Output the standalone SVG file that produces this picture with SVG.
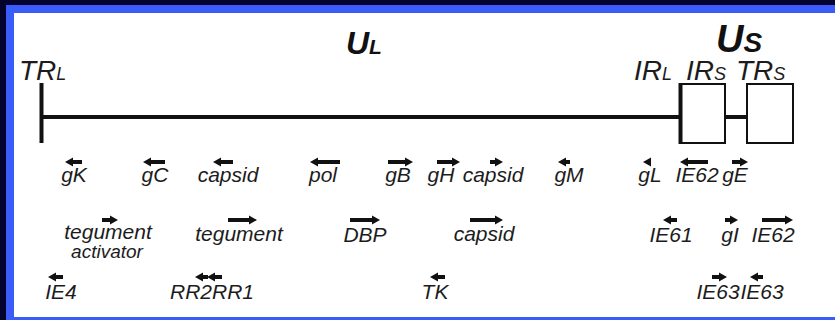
<svg xmlns="http://www.w3.org/2000/svg" width="835" height="320" viewBox="0 0 835 320">
<style>
.lbl{font-family:"Liberation Sans",Arial,sans-serif;font-style:italic;font-size:21px;fill:#1c1c1c;text-anchor:middle}
.lbs{font-family:"Liberation Sans",Arial,sans-serif;font-style:italic;font-size:19px;fill:#1c1c1c;text-anchor:middle}
.reg{font-family:"Liberation Sans",Arial,sans-serif;font-style:italic;fill:#1c1c1c}
.big{font-family:"Liberation Sans",Arial,sans-serif;font-style:italic;font-weight:bold;fill:#111}
.arr{fill:#111}
.bb{stroke:#111;fill:none}
</style>
<g id="frame">
<rect x="0" y="0" width="835" height="320" fill="#03032e"/>
<rect x="6" y="5" width="835" height="320" fill="#3a5cf8"/>
<rect x="14" y="13" width="830" height="304" fill="#ffffff"/>
</g>
<g id="connectors">
<line class="bb" x1="41.5" y1="83" x2="41.5" y2="143" stroke-width="4"/>
<line class="bb" x1="42" y1="117" x2="680" y2="117" stroke-width="4"/>
<line class="bb" x1="725" y1="117" x2="747" y2="117" stroke-width="4"/>
</g>
<g id="IRL-IRS-box">
<rect class="bb" x="680" y="84" width="45" height="59" stroke-width="2"/>
<line class="bb" x1="680.5" y1="83" x2="680.5" y2="144" stroke-width="4"/>
</g>
<g id="TRS-box">
<rect class="bb" x="747" y="84" width="46" height="59" stroke-width="2"/>
</g>
<g id="region-labels">
<text class="reg" x="19" y="80"><tspan font-size="28">TR</tspan><tspan font-size="18">L</tspan></text>
<text class="big" x="346" y="54"><tspan font-size="32">U</tspan><tspan font-size="21">L</tspan></text>
<text class="big" x="716" y="52"><tspan font-size="38">U</tspan><tspan font-size="28">S</tspan></text>
<text class="reg" x="634" y="80"><tspan font-size="28">IR</tspan><tspan font-size="18">L</tspan></text>
<text class="reg" x="686" y="80"><tspan font-size="28">IR</tspan><tspan font-size="18">S</tspan></text>
<text class="reg" x="736" y="80"><tspan font-size="28">TR</tspan><tspan font-size="18">S</tspan></text>
</g>
<g id="gK"><path class="arr" d="M65,162 L73,157.5 L73,160 L82,160 L82,164 L73,164 L73,166.5 Z"/><text class="lbl" x="74" y="182">gK</text></g>
<g id="gC"><path class="arr" d="M143,162 L151,157.5 L151,160 L165,160 L165,164 L151,164 L151,166.5 Z"/><text class="lbl" x="155" y="182">gC</text></g>
<g id="capsid1"><path class="arr" d="M213,162 L221,157.5 L221,160 L233,160 L233,164 L221,164 L221,166.5 Z"/><text class="lbl" x="228" y="182">capsid</text></g>
<g id="pol"><path class="arr" d="M310,162 L318,157.5 L318,160 L340,160 L340,164 L318,164 L318,166.5 Z"/><text class="lbl" x="323" y="182">pol</text></g>
<g id="gB"><path class="arr" d="M413,162 L405,157.5 L405,160 L388,160 L388,164 L405,164 L405,166.5 Z"/><text class="lbl" x="398" y="182">gB</text></g>
<g id="gH"><path class="arr" d="M460,162 L452,157.5 L452,160 L437,160 L437,164 L452,164 L452,166.5 Z"/><text class="lbl" x="441" y="182">gH</text></g>
<g id="capsid2"><path class="arr" d="M503,162 L495,157.5 L495,160 L490,160 L490,164 L495,164 L495,166.5 Z"/><text class="lbl" x="493" y="182">capsid</text></g>
<g id="gM"><path class="arr" d="M558,162 L566,157.5 L566,160 L570,160 L570,164 L566,164 L566,166.5 Z"/><text class="lbl" x="569" y="182">gM</text></g>
<g id="gL"><path class="arr" d="M643,162 L651,157.5 L651,166.5 Z"/><text class="lbl" x="650" y="182">gL</text></g>
<g id="IE62a"><path class="arr" d="M680,162 L688,157.5 L688,160 L708,160 L708,164 L688,164 L688,166.5 Z"/><text class="lbl" x="697" y="182">IE62</text></g>
<g id="gE"><path class="arr" d="M748,162 L740,157.5 L740,160 L732,160 L732,164 L740,164 L740,166.5 Z"/><text class="lbl" x="735" y="182">gE</text></g>
<g id="tegument-activator"><path class="arr" d="M118,220 L110,215.5 L110,218 L102,218 L102,222 L110,222 L110,224.5 Z"/><text class="lbl" x="108" y="239">tegument</text><text class="lbs" x="107" y="258">activator</text></g>
<g id="tegument"><path class="arr" d="M257,220 L249,215.5 L249,218 L228,218 L228,222 L249,222 L249,224.5 Z"/><text class="lbl" x="239" y="241">tegument</text></g>
<g id="DBP"><path class="arr" d="M380,220 L372,215.5 L372,218 L350,218 L350,222 L372,222 L372,224.5 Z"/><text class="lbl" x="365" y="242">DBP</text></g>
<g id="capsid3"><path class="arr" d="M503,220 L495,215.5 L495,218 L470,218 L470,222 L495,222 L495,224.5 Z"/><text class="lbl" x="484" y="241">capsid</text></g>
<g id="IE61"><path class="arr" d="M663,220 L671,215.5 L671,218 L677,218 L677,222 L671,222 L671,224.5 Z"/><text class="lbl" x="671" y="242">IE61</text></g>
<g id="gI"><path class="arr" d="M738,220 L730,215.5 L730,218 L725,218 L725,222 L730,222 L730,224.5 Z"/><text class="lbl" x="730" y="242">gI</text></g>
<g id="IE62b"><path class="arr" d="M793,220 L785,215.5 L785,218 L762,218 L762,222 L785,222 L785,224.5 Z"/><text class="lbl" x="773" y="242">IE62</text></g>
<g id="IE4"><path class="arr" d="M48,277 L56,272.5 L56,275 L63,275 L63,279 L56,279 L56,281.5 Z"/><text class="lbl" x="61" y="299">IE4</text></g>
<g id="RR2RR1"><path class="arr" d="M195,277 L203,272.5 L203,275 L208,275 L208,279 L203,279 L203,281.5 Z"/><path class="arr" d="M207,277 L215,272.5 L215,275 L222,275 L222,279 L215,279 L215,281.5 Z"/><text class="lbl" x="212" y="299">RR2RR1</text></g>
<g id="TK"><path class="arr" d="M430,277 L438,272.5 L438,275 L445,275 L445,279 L438,279 L438,281.5 Z"/><text class="lbl" x="435" y="299">TK</text></g>
<g id="IE63a"><path class="arr" d="M727,277 L719,272.5 L719,275 L712,275 L712,279 L719,279 L719,281.5 Z"/><text class="lbl" x="718" y="299">IE63</text></g>
<g id="IE63b"><path class="arr" d="M750,277 L758,272.5 L758,275 L763,275 L763,279 L758,279 L758,281.5 Z"/><text class="lbl" x="762" y="299">IE63</text></g>
</svg>
